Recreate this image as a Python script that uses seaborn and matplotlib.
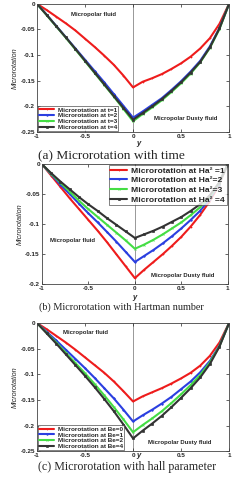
import numpy as np
import pandas as pd
import matplotlib
matplotlib.use("Agg")
import matplotlib.pyplot as plt
import seaborn as sns

# y positions across the channel
y_pos = [-1.0, -0.9, -0.8, -0.7, -0.6, -0.5, -0.4, -0.3, -0.2, -0.1, 0.0,
         0.1, 0.2, 0.3, 0.4, 0.5, 0.6, 0.7, 0.8, 0.9, 1.0]

# (a) microrotation with time
t1 = [0, -0.012, -0.025, -0.038, -0.052, -0.068, -0.084, -0.101, -0.119, -0.140, -0.163,
      -0.152, -0.145, -0.137, -0.127, -0.116, -0.103, -0.087, -0.067, -0.039, 0]
t2 = [0, -0.021, -0.043, -0.065, -0.087, -0.109, -0.131, -0.153, -0.176, -0.199, -0.222,
      -0.210, -0.197, -0.184, -0.168, -0.151, -0.132, -0.111, -0.083, -0.047, 0]
t3 = [0, -0.022, -0.044, -0.066, -0.089, -0.112, -0.135, -0.158, -0.181, -0.205, -0.229,
      -0.215, -0.202, -0.188, -0.172, -0.155, -0.136, -0.114, -0.086, -0.049, 0]
t4 = [0, -0.0215, -0.0435, -0.0655, -0.088, -0.111, -0.134, -0.157, -0.180, -0.203, -0.226,
      -0.213, -0.200, -0.186, -0.170, -0.153, -0.134, -0.113, -0.085, -0.048, 0]

# (b) microrotation with Hartman number
ha1 = [0, -0.019, -0.038, -0.057, -0.075, -0.093, -0.111, -0.130, -0.150, -0.170, -0.190,
       -0.176, -0.163, -0.150, -0.136, -0.121, -0.104, -0.085, -0.063, -0.036, 0]
ha2 = [0, -0.017, -0.034, -0.050, -0.066, -0.082, -0.097, -0.113, -0.129, -0.146, -0.163,
       -0.153, -0.143, -0.132, -0.120, -0.107, -0.093, -0.078, -0.059, -0.034, 0]
ha3 = [0, -0.016, -0.031, -0.046, -0.061, -0.075, -0.088, -0.101, -0.114, -0.127, -0.141,
       -0.134, -0.126, -0.117, -0.107, -0.097, -0.085, -0.072, -0.056, -0.033, 0]
ha4 = [0, -0.015, -0.029, -0.042, -0.055, -0.067, -0.078, -0.090, -0.101, -0.112, -0.123,
       -0.117, -0.111, -0.104, -0.096, -0.088, -0.078, -0.067, -0.053, -0.032, 0]

# (c) microrotation with hall parameter
be0 = [0, -0.012, -0.025, -0.038, -0.052, -0.067, -0.082, -0.097, -0.114, -0.133, -0.153,
       -0.143, -0.135, -0.127, -0.118, -0.108, -0.097, -0.083, -0.064, -0.038, 0]
be1 = [0, -0.017, -0.034, -0.052, -0.070, -0.088, -0.107, -0.127, -0.147, -0.169, -0.192,
       -0.180, -0.169, -0.157, -0.144, -0.129, -0.114, -0.096, -0.074, -0.044, 0]
be2 = [0, -0.019, -0.038, -0.058, -0.078, -0.098, -0.119, -0.141, -0.164, -0.188, -0.213,
       -0.199, -0.186, -0.172, -0.156, -0.139, -0.121, -0.101, -0.077, -0.045, 0]
be4 = [0, -0.020, -0.040, -0.061, -0.082, -0.103, -0.125, -0.148, -0.172, -0.198, -0.225,
       -0.210, -0.196, -0.181, -0.164, -0.146, -0.127, -0.106, -0.080, -0.046, 0]

labels_a = ["Microrotation at t=1", "Microrotation at t=2",
            "Microrotation at t=3", "Microrotation at t=4"]
labels_b = ["Microrotation at Ha² =1", "Microrotation at Ha²=2",
            "Microrotation at Ha²=3", "Microrotation at Ha² =4"]
labels_c = ["Microrotation at Be=0", "Microrotation at Be=1",
            "Microrotation at Be=2", "Microrotation at Be=4"]

colors = ["#ee1c1c", "#2b3fe0", "#44dd44", "#333333"]
markers = ["+", "*", "x", "s"]

sns.set_style("ticks")
plt.rcParams["font.family"] = ["Liberation Sans", "DejaVu Sans"]
plt.rcParams["axes.unicode_minus"] = False

fig = plt.figure(figsize=(2.45, 4.8), dpi=100)
ax_a = fig.add_axes([0.151, 0.725, 0.784, 0.267])
ax_b = fig.add_axes([0.171, 0.408, 0.759, 0.250])
ax_c = fig.add_axes([0.151, 0.060, 0.784, 0.267])


def draw(ax, series, labels, ymin, ytick_list, legend_loc, notes, legsize, hlen, lspace):
    for s, lab, c, m in zip(series, labels, colors, markers):
        sns.lineplot(x=y_pos, y=s, ax=ax, color=c, marker=m, markersize=1.4,
                     markeredgewidth=0.5, markeredgecolor=c, linewidth=1.5,
                     label=lab)
    ax.axvline(0, color="#888888", linewidth=0.6, zorder=0)
    ax.set_xlim(-1, 1)
    ax.set_ylim(ymin, 0)
    ax.set_xticks([-1, -0.5, 0, 0.5, 1])
    ax.set_xticklabels(["-1", "-0.5", "0", "0.5", "1"])
    ax.set_yticks(ytick_list)
    ax.set_yticklabels(["%g" % v for v in ytick_list])
    ax.tick_params(direction="in", length=2, width=0.5, pad=1.5,
                   labelsize=4.6, top=True, right=True)
    for lab in ax.get_xticklabels() + ax.get_yticklabels():
        lab.set_fontweight("bold")
    for sp in ax.spines.values():
        sp.set_linewidth(0.6)
        sp.set_color("#444444")
    ax.set_ylabel("Microrotation", fontsize=5.2, style="italic", labelpad=1)
    ax.set_xlabel("y", fontsize=5.5, style="italic", fontweight="bold")
    leg = ax.legend(loc=legend_loc, frameon=True, fancybox=False,
                    edgecolor="#222222", borderpad=0.2, labelspacing=lspace,
                    handlelength=hlen, handletextpad=0.5, borderaxespad=0.12,
                    prop={"weight": "bold", "size": legsize})
    leg.get_frame().set_linewidth(0.5)
    for (tx, ty, text) in notes:
        ax.text(tx, ty, text, fontsize=4.3, fontweight="bold", ha="center", va="center")


draw(ax_a, [t1, t2, t3, t4], labels_a, -0.25,
     [-0.25, -0.2, -0.15, -0.1, -0.05, 0], "lower left",
     [(-0.41, -0.0215, "Micropolar fluid"), (0.55, -0.224, "Micropolar Dusty fluid")],
     4.6, 2.4, 0.05)
draw(ax_b, [ha1, ha2, ha3, ha4], labels_b, -0.2,
     [-0.2, -0.15, -0.1, -0.05, 0], "upper right",
     [(-0.667, -0.127, "Micropolar fluid"), (0.516, -0.185, "Micropolar Dusty fluid")],
     6.1, 2.0, 0.2)
draw(ax_c, [be0, be1, be2, be4], labels_c, -0.25,
     [-0.25, -0.2, -0.15, -0.1, -0.05, 0], "lower left",
     [(-0.50, -0.0176, "Micropolar fluid"), (0.49, -0.233, "Micropolar Dusty fluid")],
     4.6, 2.4, 0.05)

ax_a.xaxis.set_label_coords(0.53, -0.06)
ax_b.xaxis.set_label_coords(0.5, -0.08)
ax_c.xaxis.set_label_coords(0.526, -0.01)

serif = ["Liberation Serif", "DejaVu Serif"]
fig.text(0.155, 1 - 155 / 480, "(a) Microrotation with time",
         fontsize=9.6, family=serif, ha="left", va="center")
fig.text(0.158, 1 - 307 / 480, "(b) Microrotation with Hartman number",
         fontsize=7.4, family=serif, ha="left", va="center")
fig.text(0.155, 1 - 467 / 480, "(c) Microrotation with hall parameter",
         fontsize=8.6, family=serif, ha="left", va="center")

fig.savefig("out.png", dpi=100, facecolor="white")
